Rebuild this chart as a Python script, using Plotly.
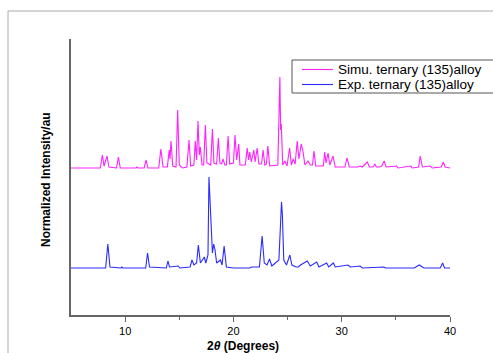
import plotly.graph_objects as go

# Simulated pattern (2theta, intensity in au, offset baseline)
simu_x = [5, 7.7, 7.9, 8.05, 8.33, 8.5, 9.2, 9.38, 9.55, 11.0, 11.08, 11.2, 11.75, 11.94, 12.1,
          13.1, 13.3, 13.5, 13.9, 14.07, 14.15, 14.23, 14.4, 14.7, 14.85, 15.0, 15.3, 15.7, 15.9,
          16.05, 16.35, 16.48, 16.6, 16.73, 16.85, 16.94, 17.1, 17.25, 17.41, 17.55, 17.9, 18.06,
          18.2, 18.45, 18.61, 18.75, 18.9, 19.04, 19.2, 19.35, 19.51, 19.65, 20.0, 20.15, 20.3,
          20.49, 20.6, 21.1, 21.27, 21.4, 21.51, 21.65, 21.88, 22.0, 22.19, 22.35, 22.6, 22.74,
          22.9, 23.05, 23.18, 23.35, 24.1, 24.29, 24.36, 24.42, 24.55, 24.75, 24.95, 25.19, 25.35,
          25.52, 25.7, 25.89, 26.05, 26.26, 26.42, 26.6, 26.88, 27.1, 27.3, 27.44, 27.6, 28.3,
          28.43, 28.55, 28.74, 28.9, 29.2, 29.4, 30.3, 30.49, 30.7, 31.5, 31.7, 31.9, 32.37, 32.55,
          32.9, 33.06, 33.2, 33.5, 33.7, 33.92, 34.1, 35.06, 35.2, 36.39, 36.5, 37.1, 37.25, 37.45,
          38.2, 38.35, 39.2, 39.38, 39.55, 40]
simu_y = [147, 147, 160, 149, 159, 148, 147, 158, 147, 147, 148, 147, 147, 155, 147,
          147, 166, 148, 148, 165, 156, 174, 149, 148, 205, 150, 147, 148, 175,
          149, 150, 174, 155, 194, 160, 168, 150, 150, 190, 152, 150, 186,
          152, 151, 177, 152, 151, 156, 150, 150, 179, 151, 152, 180, 155,
          171, 150, 150, 167, 155, 163, 153, 165, 153, 167, 151, 151, 165,
          150, 151, 169, 149, 150, 238, 185, 191, 150, 154, 149, 167, 150,
          156, 151, 174, 156, 171, 164, 150, 154, 150, 150, 164, 149, 149,
          163, 152, 162, 150, 159, 148, 148, 157, 148, 148, 149, 148, 153, 148,
          148, 151, 148, 148, 149, 154, 148, 149, 147, 149, 147, 148, 159, 148,
          149, 147, 148, 153, 148, 147]

# Experimental pattern
exp_x = [5, 8.2, 8.4, 8.6, 9.6, 9.7, 9.8, 11.9, 12.07, 12.25, 13.8, 13.95, 14.1, 14.9, 15.05,
         16.0, 16.17, 16.35, 16.6, 16.76, 16.95, 17.31, 17.45, 17.65, 17.74, 17.84, 17.95, 18.06,
         18.18, 18.3, 18.45, 18.8, 18.95, 19.14, 19.35, 20.0, 21.5, 21.7, 22.4, 22.65, 22.85, 23.1,
         23.33, 23.55, 24.2, 24.44, 24.52, 24.65, 24.9, 25.21, 25.4, 25.6, 25.8, 26.0, 26.2, 26.82,
         27.1, 27.69, 27.9, 28.61, 28.8, 29.23, 29.4, 30.58, 30.8, 31.7, 31.9, 33.9, 34.05, 36.7,
         37.16, 37.6, 39.1, 39.32, 39.5, 40]
exp_y = [47, 47, 71, 48, 47, 48, 47, 47, 62, 48, 47, 54, 48, 49, 47,
         48, 55, 50, 52, 70, 52, 58, 52, 60, 138, 111, 80, 62,
         71, 65, 52, 55, 50, 69, 48, 47, 47, 48, 48, 79, 52, 50,
         56, 49, 55, 113, 100, 55, 50, 60, 50, 49, 48, 48, 50, 54,
         49, 53, 48, 52, 48, 52, 48, 50, 48, 49, 47, 48, 47, 47,
         50, 47, 47, 52, 47, 47]

series_names = ["Simu. ternary (135)alloy", "Exp. ternary (135)alloy"]
series_colors = ["#ff22ff", "#2a2aff"]
x_ticks = [10, 20, 30, 40]

fig = go.Figure()
fig.add_trace(go.Scatter(x=simu_x, y=simu_y, mode="lines", name=series_names[0],
                         line=dict(color=series_colors[0], width=1.1), showlegend=False))
fig.add_trace(go.Scatter(x=exp_x, y=exp_y, mode="lines", name=series_names[1],
                         line=dict(color=series_colors[1], width=1.1), showlegend=False))

font = "Liberation Sans, Arial, sans-serif"
fig.update_layout(
    width=493, height=353,
    margin=dict(l=71, r=43, t=39, b=38),
    paper_bgcolor="white", plot_bgcolor="white",
    font=dict(family=font, size=11, color="black"),
    showlegend=False,
    xaxis=dict(range=[5, 40], tickvals=x_ticks, ticks="outside", ticklen=5,
               tickcolor="#666666", showline=True, linecolor="#666666", linewidth=1.5,
               showgrid=False, zeroline=False,
               minor=dict(tickvals=[15, 25, 35], ticks="outside", ticklen=3, tickcolor="#666666"),
               tickfont=dict(size=11)),
    yaxis=dict(range=[0, 276], showticklabels=False, ticks="", showline=True,
               linecolor="#666666", linewidth=1.5, showgrid=False, zeroline=False),
)

def px(xp):
    return (xp - 71) / 379

def py(yp):
    return (315 - yp) / 276

fig.add_annotation(text="<b>2<i>θ</i> (Degrees)</b>", xref="paper", yref="paper",
                   x=px(243), y=py(346), showarrow=False,
                   xanchor="center", yanchor="middle", font=dict(size=12, family=font))
fig.add_annotation(text="<b>Normalized Intensity/au</b>", xref="paper", yref="paper",
                   x=px(46), y=py(180), showarrow=False, textangle=-90,
                   xanchor="center", yanchor="middle", font=dict(size=12, family=font))

# legend box (runs past the right edge as in the reference)
fig.add_shape(type="rect", xref="paper", yref="paper",
              x0=px(292), x1=px(520), y0=py(60), y1=py(93),
              line=dict(color="#555555", width=1), fillcolor="white", layer="above")
for i, (nm, col) in enumerate(zip(series_names, series_colors)):
    yy = 69.5 + 15 * i
    fig.add_shape(type="line", xref="paper", yref="paper",
                  x0=px(302), x1=px(333), y0=py(yy), y1=py(yy),
                  line=dict(color=col, width=1.1), layer="above")
    fig.add_annotation(text=nm, xref="paper", yref="paper", x=px(336), y=py(yy),
                       xanchor="left", yanchor="middle", showarrow=False,
                       font=dict(size=13.5, family=font, color="black"))

# outer image frame (top and left)
fig.add_shape(type="line", xref="paper", yref="paper",
              x0=px(8), x1=px(493), y0=py(11), y1=py(11),
              line=dict(color="#aaaaaa", width=1))
fig.add_shape(type="line", xref="paper", yref="paper",
              x0=px(8), x1=px(8), y0=py(11), y1=py(353),
              line=dict(color="#aaaaaa", width=1))

fig.write_html("out.html")
